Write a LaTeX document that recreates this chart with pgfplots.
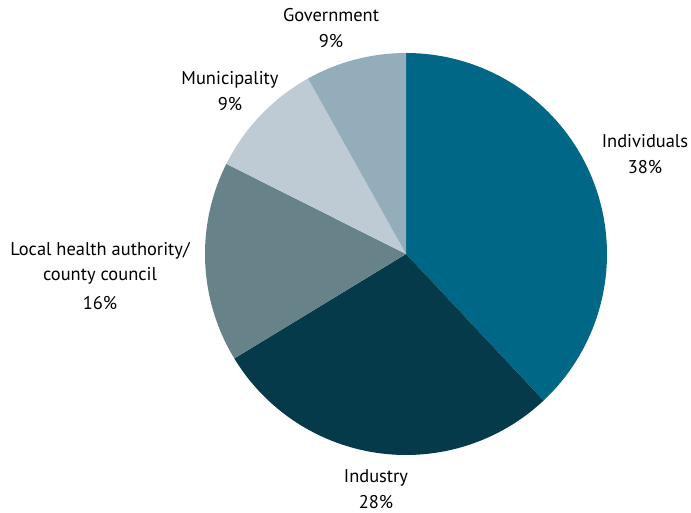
\documentclass[border=0pt]{standalone}
\usepackage{pgfplots}
\pgfplotsset{compat=1.18}
\usepackage{fontspec}
\setmainfont{PT Sans}

\definecolor{cIndiv}{HTML}{016786}
\definecolor{cIndus}{HTML}{043A4A}
\definecolor{cLocal}{HTML}{68828A}
\definecolor{cMuni}{HTML}{BFCBD4}
\definecolor{cGov}{HTML}{93ADBB}

% shares of the pie in percent, clockwise from 12 o'clock
% Individuals 38, Industry 28.3, Local 16.1, Municipality 9.5, Government 8.1
\newcommand{\cx}{406}
\newcommand{\cy}{259}
\newcommand{\rr}{201}

\tikzset{lbl/.style={font=\fontsize{18.5}{26}\selectfont, align=center, inner sep=0pt}}

\begin{document}
\begin{tikzpicture}
\begin{axis}[
    at={(0,0)}, anchor=south west,
    scale only axis,
    width=691bp, height=513bp,
    xmin=0, xmax=691, ymin=0, ymax=513,
    hide axis,
    clip=false,
]
\addplot[fill=cIndiv, draw=none, domain={90-3.6*38}:90, samples=80]
    ({\cx+\rr*cos(x)},{\cy+\rr*sin(x)}) -- (axis cs:\cx,\cy) -- cycle;
\addplot[fill=cIndus, draw=none, domain={90-3.6*66.3}:{90-3.6*38}, samples=80]
    ({\cx+\rr*cos(x)},{\cy+\rr*sin(x)}) -- (axis cs:\cx,\cy) -- cycle;
\addplot[fill=cLocal, draw=none, domain={90-3.6*82.4}:{90-3.6*66.3}, samples=60]
    ({\cx+\rr*cos(x)},{\cy+\rr*sin(x)}) -- (axis cs:\cx,\cy) -- cycle;
\addplot[fill=cMuni, draw=none, domain={90-3.6*91.9}:{90-3.6*82.4}, samples=40]
    ({\cx+\rr*cos(x)},{\cy+\rr*sin(x)}) -- (axis cs:\cx,\cy) -- cycle;
\addplot[fill=cGov, draw=none, domain={90-3.6*100}:{90-3.6*91.9}, samples=40]
    ({\cx+\rr*cos(x)},{\cy+\rr*sin(x)}) -- (axis cs:\cx,\cy) -- cycle;

\node[lbl] at (axis cs:645,359) {Individuals\\38\%};
\node[lbl] at (axis cs:376,24) {Industry\\28\%};
\node[lbl] at (axis cs:100,237) {Local health authority/\\county council\\[3pt]16\%};
\node[lbl] at (axis cs:230,422) {Municipality\\9\%};
\node[lbl] at (axis cs:331,485) {Government\\9\%};
\end{axis}
\pgfresetboundingbox
\path (0,0) rectangle (691bp,513bp);
\end{tikzpicture}
\end{document}
